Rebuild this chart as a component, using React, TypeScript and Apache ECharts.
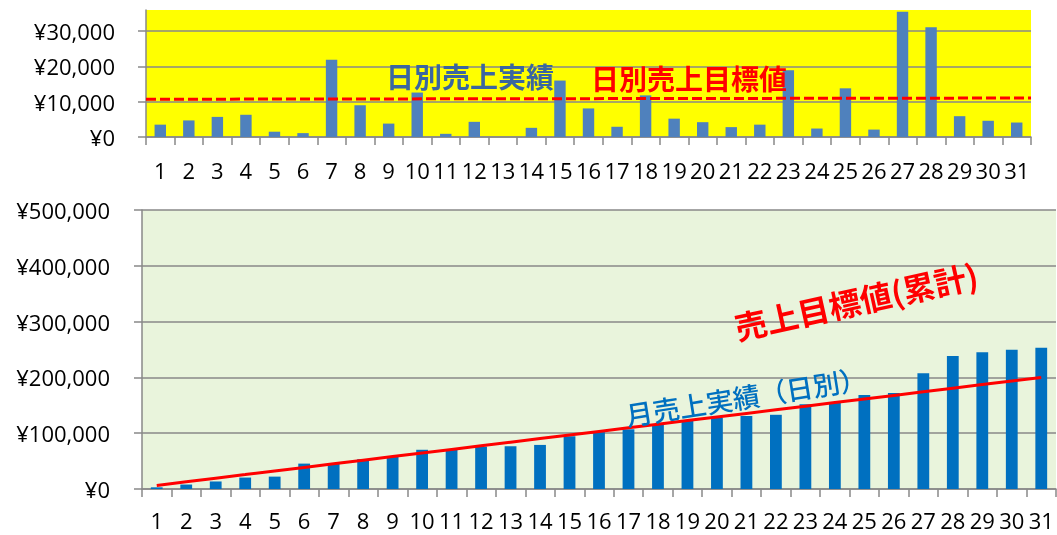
import React, { useEffect, useRef } from 'react';
import * as echarts from 'echarts';

const days = ['1','2','3','4','5','6','7','8','9','10','11','12','13','14','15','16','17','18','19','20','21','22','23','24','25','26','27','28','29','30','31'];

const dailySales = [3500, 4700, 5700, 6300, 1500, 1100, 21900, 9000, 3800, 12600, 900, 4300, 0, 2600, 16000, 8100, 2900, 11800, 5200, 4200, 2800, 3500, 18900, 2400, 13800, 2100, 35500, 31100, 5900, 4600, 4100];
const dailyTargetLine = [10700, 11050];

const cumulativeSales = [3000, 8000, 13500, 20500, 22200, 45500, 46000, 53500, 58000, 70300, 71500, 76000, 76500, 79000, 94500, 102000, 107000, 116000, 122000, 128000, 131000, 133000, 152000, 156000, 168500, 172000, 207500, 238500, 245000, 249500, 253000];
const cumulativeTarget = [6452, 12903, 19355, 25806, 32258, 38710, 45161, 51613, 58065, 64516, 70968, 77419, 83871, 90323, 96774, 103226, 109677, 116129, 122581, 129032, 135484, 141935, 148387, 154839, 161290, 167742, 174194, 180645, 187097, 193548, 200000];

const topYTicks = [0, 10000, 20000, 30000];
const topYLabels = ['¥0', '¥10,000', '¥20,000', '¥30,000'];
const bottomYTicks = [0, 100000, 200000, 300000, 400000, 500000];
const bottomYLabels = ['¥0', '¥100,000', '¥200,000', '¥300,000', '¥400,000', '¥500,000'];

const GRAY = '#898989';
const NUM_FONT = '"Open Sans", "Noto Sans", sans-serif';
const JP_FONT = '"Noto Sans CJK JP", sans-serif';

export default function App() {
  const ref = useRef<HTMLDivElement>(null);
  useEffect(() => {
    if (!ref.current) return;
    const chart = echarts.init(ref.current, null, { renderer: 'svg' });
    const axisLabelBase = { color: '#000', fontSize: 22, fontFamily: NUM_FONT };
    const catAxis = (gridIndex: number, margin: number) => ({
      type: 'category',
      gridIndex,
      data: days,
      boundaryGap: true,
      axisLine: { show: true, lineStyle: { color: GRAY, width: 1.5 } },
      axisTick: { show: true, interval: 0, length: 8, lineStyle: { color: GRAY, width: 1.5 } },
      axisLabel: { ...axisLabelBase, interval: 0, margin },
      splitLine: { show: false },
    });
    chart.setOption({
      animation: false,
      grid: [
        { left: 146, top: 10, width: 885, height: 127, show: true, backgroundColor: '#ffff00', borderWidth: 0 },
        { left: 142, top: 210, width: 914, height: 279, show: true, backgroundColor: '#e9f4dc', borderWidth: 0 },
      ],
      xAxis: [
        catAxis(0, 22),
        catAxis(1, 20),
        { type: 'value', gridIndex: 0, min: 0, max: 1, show: false },
      ],
      yAxis: [
        {
          type: 'value', gridIndex: 0, min: 0, max: 36000, interval: 10000,
          axisLine: { show: true, lineStyle: { color: GRAY, width: 1.5 } },
          axisTick: { show: true, length: 8, customValues: topYTicks, lineStyle: { color: GRAY, width: 1.5 } },
          axisLabel: {
            ...axisLabelBase, margin: 31, customValues: topYTicks,
            formatter: (v: number) => topYLabels[topYTicks.indexOf(v)] ?? '',
          },
          splitLine: { show: true, lineStyle: { color: GRAY, width: 1.5 } },
        },
        {
          type: 'value', gridIndex: 1, min: 0, max: 500000, interval: 100000,
          axisLine: { show: true, lineStyle: { color: GRAY, width: 1.5 } },
          axisTick: { show: true, length: 8, lineStyle: { color: GRAY, width: 1.5 } },
          axisLabel: {
            ...axisLabelBase, margin: 32,
            formatter: (v: number) => bottomYLabels[bottomYTicks.indexOf(v)] ?? '',
          },
          splitLine: { show: true, lineStyle: { color: GRAY, width: 1.5 } },
        },
      ],
      series: [
        {
          type: 'bar', xAxisIndex: 0, yAxisIndex: 0, data: dailySales, barWidth: '40%',
          itemStyle: { color: '#4f81bd' }, z: 2,
        },
        {
          type: 'line', xAxisIndex: 2, yAxisIndex: 0,
          data: dailyTargetLine.map((v, i) => [i, v]),
          symbol: 'none', lineStyle: { color: '#ff0000', width: 3, type: [10, 4] }, z: 3,
        },
        {
          type: 'bar', xAxisIndex: 1, yAxisIndex: 1, data: cumulativeSales, barWidth: '40%',
          itemStyle: { color: '#0070c0' }, z: 2,
        },
        {
          type: 'line', xAxisIndex: 1, yAxisIndex: 1, data: cumulativeTarget,
          symbol: 'none', lineStyle: { color: '#ff0000', width: 3 }, z: 3,
        },
      ],
      graphic: [
        {
          type: 'text', x: 470, y: 76, z: 10,
          style: { text: '日別売上実績', fill: '#3a66a0', fontSize: 28, fontWeight: 'bold', fontFamily: JP_FONT, align: 'center', verticalAlign: 'middle' },
        },
        {
          type: 'text', x: 689, y: 78, z: 10,
          style: { text: '日別売上目標値', fill: '#ff0000', fontSize: 28, fontWeight: 'bold', fontFamily: JP_FONT, align: 'center', verticalAlign: 'middle' },
        },
        {
          type: 'text', x: 856, y: 300, rotation: 12.5 * Math.PI / 180, z: 10,
          style: { text: '売上目標値(累計)', fill: '#ff0000', fontSize: 32, fontWeight: 'bold', fontFamily: JP_FONT, align: 'center', verticalAlign: 'middle' },
        },
        {
          type: 'text', x: 746, y: 396, rotation: 9 * Math.PI / 180, z: 10,
          style: { text: '月売上実績（日別）', fill: '#0070c0', fontSize: 27, fontWeight: 500, fontFamily: JP_FONT, align: 'center', verticalAlign: 'middle' },
        },
      ],
    });
    return () => chart.dispose();
  }, []);
  return <div ref={ref} style={{ position: 'fixed', left: 0, top: 0, width: 1057, height: 535 }} />;
}
